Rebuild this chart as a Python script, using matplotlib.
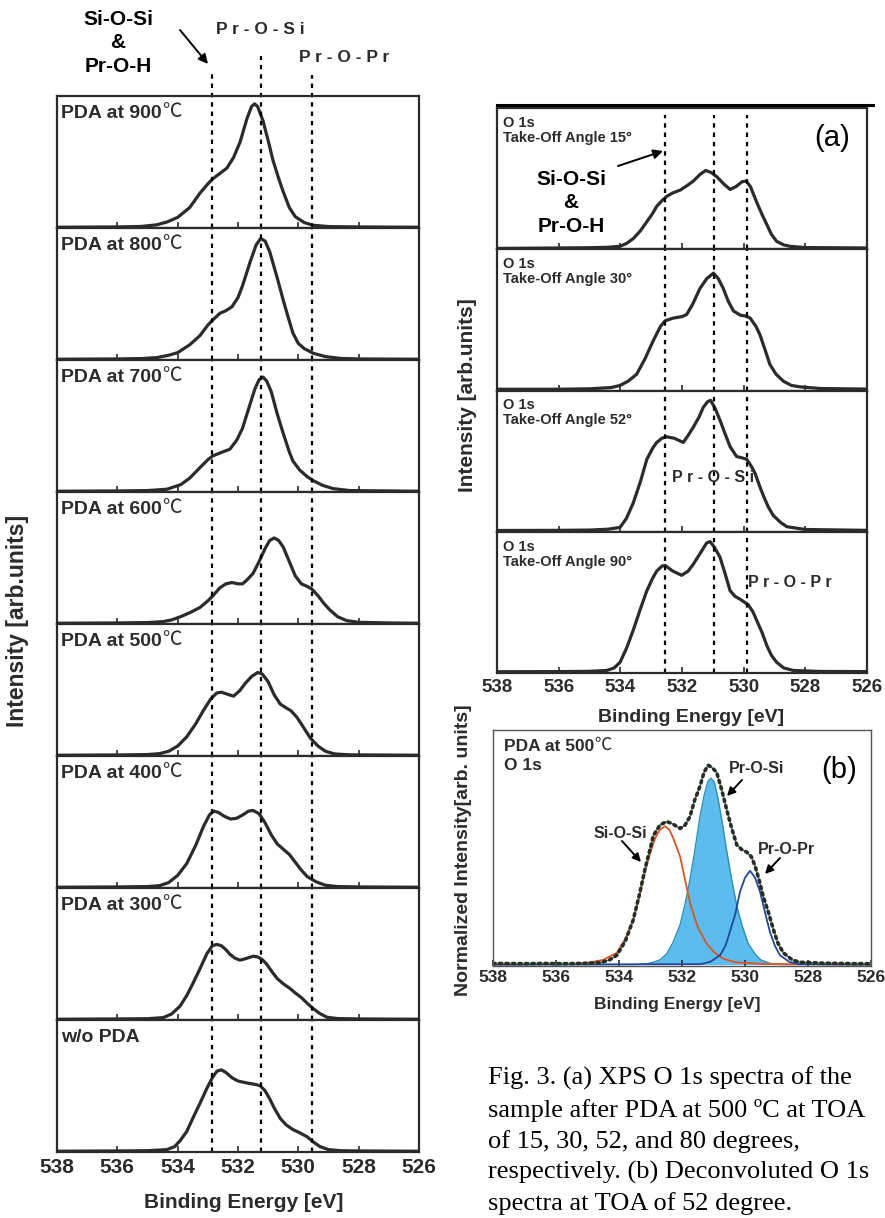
import matplotlib.pyplot as plt
from matplotlib.lines import Line2D
from matplotlib.patches import FancyArrowPatch

plt.rcParams['font.family'] = ['Liberation Sans', 'DejaVu Sans']

W, H = 885, 1218
INK = '#2b2b2b'

# ---- left column: PDA temperature series (binding energy, normalised intensity)
pda_labels = ['PDA at 900', 'PDA at 800', 'PDA at 700', 'PDA at 600',
              'PDA at 500', 'PDA at 400', 'PDA at 300', 'w/o PDA']

e900 = [538, 536, 535.2, 534.7, 534.35, 534.0, 533.6, 533.26, 533.0, 532.83, 532.6, 532.37, 532.15, 531.93, 531.7, 531.55, 531.45, 531.35, 531.17, 531.0, 530.84, 530.65, 530.5, 530.3, 530.1, 529.8, 529.5, 529.0, 528, 526]
i900 = [0, 0.002, 0.006, 0.018, 0.04, 0.075, 0.15, 0.26, 0.33, 0.37, 0.41, 0.45, 0.53, 0.65, 0.83, 0.92, 0.94, 0.92, 0.81, 0.66, 0.51, 0.37, 0.27, 0.15, 0.08, 0.035, 0.015, 0.005, 0.002, 0]
e800 = [538, 536, 535.2, 534.7, 534.3, 534.0, 533.6, 533.26, 533.0, 532.83, 532.6, 532.4, 532.2, 532.0, 531.85, 531.6, 531.4, 531.25, 531.1, 530.95, 530.7, 530.5, 530.35, 530.18, 530.0, 529.8, 529.5, 529.1, 528.6, 528, 526]
i800 = [0, 0.002, 0.005, 0.012, 0.03, 0.05, 0.11, 0.18, 0.26, 0.30, 0.35, 0.37, 0.40, 0.47, 0.56, 0.74, 0.87, 0.92, 0.90, 0.82, 0.62, 0.45, 0.33, 0.20, 0.12, 0.08, 0.045, 0.02, 0.006, 0.002, 0]
e700 = [538, 536, 535, 534.36, 533.9, 533.6, 533.26, 533.0, 532.83, 532.5, 532.27, 532.04, 531.85, 531.7, 531.55, 531.44, 531.3, 531.17, 531.05, 530.9, 530.7, 530.5, 530.3, 530.18, 529.95, 529.7, 529.5, 529.2, 528.85, 528.3, 526]
i700 = [0, 0.002, 0.005, 0.015, 0.05, 0.10, 0.18, 0.24, 0.27, 0.30, 0.32, 0.39, 0.48, 0.59, 0.70, 0.78, 0.85, 0.87, 0.84, 0.76, 0.59, 0.44, 0.30, 0.23, 0.16, 0.11, 0.08, 0.045, 0.02, 0.005, 0]
e600 = [538, 536, 535, 534.5, 534.2, 533.9, 533.6, 533.26, 533.0, 532.83, 532.6, 532.4, 532.2, 532.0, 531.85, 531.7, 531.5, 531.3, 531.1, 530.95, 530.8, 530.65, 530.5, 530.3, 530.1, 529.9, 529.7, 529.55, 529.35, 529.15, 528.95, 528.7, 528.4, 528.0, 527, 526]
i600 = [0, 0.002, 0.005, 0.012, 0.025, 0.05, 0.08, 0.12, 0.17, 0.21, 0.27, 0.30, 0.31, 0.30, 0.30, 0.33, 0.38, 0.47, 0.57, 0.63, 0.65, 0.63, 0.58, 0.47, 0.36, 0.30, 0.28, 0.26, 0.21, 0.15, 0.10, 0.05, 0.02, 0.007, 0.002, 0]
e500 = [538, 536, 535.0, 534.6, 534.3, 534.0, 533.7, 533.4, 533.15, 532.9, 532.7, 532.55, 532.35, 532.15, 531.95, 531.75, 531.55, 531.35, 531.2, 531.0, 530.8, 530.6, 530.4, 530.25, 530.05, 529.85, 529.6, 529.35, 529.1, 528.8, 528.3, 526]
i500 = [0, 0.002, 0.005, 0.012, 0.03, 0.07, 0.14, 0.24, 0.34, 0.43, 0.475, 0.48, 0.465, 0.45, 0.49, 0.55, 0.60, 0.63, 0.62, 0.56, 0.46, 0.39, 0.36, 0.34, 0.29, 0.22, 0.13, 0.07, 0.03, 0.01, 0.003, 0]
e400 = [538, 536, 535, 534.6, 534.3, 534.0, 533.7, 533.4, 533.15, 532.95, 532.8, 532.65, 532.45, 532.25, 532.05, 531.85, 531.65, 531.5, 531.3, 531.1, 530.9, 530.7, 530.5, 530.3, 530.1, 529.9, 529.7, 529.4, 529.1, 528.7, 528, 526]
i400 = [0, 0.002, 0.005, 0.012, 0.035, 0.09, 0.18, 0.32, 0.46, 0.55, 0.58, 0.57, 0.54, 0.52, 0.525, 0.55, 0.58, 0.585, 0.56, 0.49, 0.40, 0.33, 0.29, 0.25, 0.19, 0.13, 0.08, 0.04, 0.015, 0.005, 0.002, 0]
e300 = [538, 536, 535, 534.48, 534.2, 533.92, 533.7, 533.5, 533.25, 533.03, 532.85, 532.7, 532.55, 532.4, 532.27, 532.1, 531.93, 531.7, 531.5, 531.35, 531.2, 531.05, 530.9, 530.7, 530.5, 530.28, 530.1, 529.9, 529.7, 529.5, 529.3, 529.05, 528.7, 528, 526]
i300 = [0, 0.002, 0.004, 0.012, 0.04, 0.10, 0.18, 0.27, 0.39, 0.50, 0.56, 0.57, 0.56, 0.53, 0.495, 0.465, 0.45, 0.465, 0.48, 0.475, 0.455, 0.42, 0.37, 0.31, 0.27, 0.235, 0.20, 0.165, 0.12, 0.08, 0.045, 0.015, 0.005, 0.002, 0]
e_as = [538, 536, 535, 534.36, 534.1, 533.92, 533.7, 533.5, 533.25, 533.03, 532.85, 532.7, 532.55, 532.4, 532.2, 532.0, 531.7, 531.45, 531.27, 531.1, 530.95, 530.8, 530.6, 530.4, 530.18, 529.95, 529.71, 529.5, 529.28, 529.0, 528.6, 528, 526]
i_as = [0, 0.002, 0.004, 0.012, 0.035, 0.08, 0.15, 0.25, 0.37, 0.48, 0.56, 0.61, 0.62, 0.60, 0.56, 0.535, 0.52, 0.51, 0.50, 0.46, 0.40, 0.33, 0.25, 0.20, 0.165, 0.14, 0.11, 0.07, 0.035, 0.012, 0.004, 0.002, 0]

left_e = [e900, e800, e700, e600, e500, e400, e300, e_as]
left_i = [i900, i800, i700, i600, i500, i400, i300, i_as]
left_marks = [532.85, 531.25, 529.55]

# ---- (a) take-off angle series
toa_labels = ['O 1s\nTake-Off Angle 15°', 'O 1s\nTake-Off Angle 30°',
              'O 1s\nTake-Off Angle 52°', 'O 1s\nTake-Off Angle 90°']
ea15 = [538, 536, 535, 534.4, 534.01, 533.8, 533.58, 533.35, 533.14, 532.95, 532.82, 532.65, 532.5, 532.3, 532.06, 531.85, 531.63, 531.4, 531.23, 531.05, 530.87, 530.65, 530.44, 530.25, 530.05, 529.92, 529.78, 529.58, 529.4, 529.25, 529.1, 528.93, 528.7, 528.5, 528.0, 526]
ia15 = [0, 0.003, 0.005, 0.008, 0.015, 0.035, 0.07, 0.125, 0.19, 0.25, 0.30, 0.34, 0.37, 0.395, 0.415, 0.445, 0.48, 0.53, 0.555, 0.54, 0.51, 0.46, 0.42, 0.44, 0.475, 0.48, 0.44, 0.33, 0.24, 0.17, 0.10, 0.05, 0.025, 0.015, 0.006, 0.003]
ea30 = [538, 536, 535, 534.3, 534.01, 533.75, 533.47, 533.2, 532.93, 532.7, 532.55, 532.28, 532.0, 531.85, 531.65, 531.42, 531.2, 530.98, 530.82, 530.66, 530.5, 530.33, 530.1, 529.95, 529.79, 529.6, 529.47, 529.3, 529.15, 528.95, 528.71, 528.45, 528.17, 527.5, 526]
ia30 = [0.003, 0.003, 0.006, 0.015, 0.03, 0.06, 0.11, 0.22, 0.35, 0.45, 0.49, 0.51, 0.52, 0.535, 0.61, 0.72, 0.79, 0.83, 0.79, 0.72, 0.63, 0.56, 0.53, 0.525, 0.51, 0.45, 0.39, 0.28, 0.18, 0.11, 0.06, 0.03, 0.02, 0.008, 0.004]
ea52 = [538, 536, 535, 534.4, 534.01, 533.8, 533.58, 533.35, 533.14, 532.95, 532.82, 532.65, 532.5, 532.25, 531.96, 531.8, 531.63, 531.45, 531.31, 531.17, 531.07, 530.92, 530.77, 530.6, 530.44, 530.23, 530.05, 529.9, 529.75, 529.63, 529.5, 529.36, 529.2, 529.04, 528.8, 528.6, 528.0, 526]
ia52 = [0.003, 0.004, 0.006, 0.012, 0.025, 0.09, 0.20, 0.35, 0.51, 0.59, 0.63, 0.66, 0.67, 0.66, 0.63, 0.68, 0.74, 0.81, 0.88, 0.92, 0.93, 0.87, 0.79, 0.69, 0.60, 0.53, 0.52, 0.51, 0.46, 0.41, 0.33, 0.25, 0.17, 0.11, 0.06, 0.03, 0.01, 0.004]
ea90 = [538, 536, 535, 534.44, 534.2, 534.01, 533.8, 533.58, 533.35, 533.14, 532.95, 532.82, 532.65, 532.55, 532.3, 532.01, 531.8, 531.63, 531.4, 531.2, 531.09, 530.95, 530.77, 530.6, 530.44, 530.28, 530.12, 529.85, 529.7, 529.58, 529.4, 529.25, 529.1, 528.93, 528.7, 528.39, 527.5, 526]
ia90 = [0.003, 0.004, 0.006, 0.012, 0.03, 0.07, 0.17, 0.30, 0.45, 0.58, 0.67, 0.72, 0.755, 0.76, 0.72, 0.69, 0.72, 0.77, 0.85, 0.92, 0.93, 0.89, 0.82, 0.70, 0.58, 0.54, 0.52, 0.48, 0.43, 0.37, 0.28, 0.19, 0.12, 0.07, 0.03, 0.012, 0.005, 0.004]

toa_e = [ea15, ea30, ea52, ea90]
toa_i = [ia15, ia30, ia52, ia90]
toa_marks = [532.55, 530.96, 529.89]

# ---- (b) deconvolution, PDA 500 C, TOA 52
eb = [538, 537, 536.5, 535.8, 535.2, 534.6, 534.3, 534.07, 533.8, 533.55, 533.35, 533.17, 533.0, 532.91, 532.7, 532.49, 532.3, 532.06, 531.9, 531.75, 531.6, 531.43, 531.3, 531.17, 531.05, 530.9, 530.75, 530.58, 530.42, 530.26, 530.1, 529.95, 529.8, 529.68, 529.55, 529.42, 529.25, 529.1, 528.95, 528.78, 528.5, 528.25, 527.5, 527.0, 526.5, 526]
ib = [0.005, 0.004, 0.005, 0.004, 0.005, 0.008, 0.02, 0.04, 0.10, 0.19, 0.30, 0.41, 0.50, 0.55, 0.595, 0.61, 0.60, 0.58, 0.595, 0.63, 0.70, 0.76, 0.82, 0.85, 0.84, 0.82, 0.75, 0.66, 0.58, 0.51, 0.49, 0.48, 0.46, 0.42, 0.36, 0.29, 0.22, 0.15, 0.09, 0.05, 0.02, 0.01, 0.006, 0.005, 0.004, 0.004]
e_sios = [538, 535.5, 535.0, 534.5, 534.07, 533.8, 533.55, 533.35, 533.17, 533.0, 532.85, 532.7, 532.54, 532.4, 532.25, 532.06, 531.9, 531.74, 531.5, 531.22, 531.0, 530.69, 530.3, 529.5, 526]
i_sios = [0, 0.003, 0.008, 0.02, 0.05, 0.11, 0.19, 0.29, 0.40, 0.48, 0.54, 0.575, 0.59, 0.575, 0.53, 0.46, 0.36, 0.26, 0.16, 0.09, 0.055, 0.025, 0.01, 0.003, 0]
e_pros = [538, 533.5, 533.1, 532.91, 532.7, 532.49, 532.3, 532.06, 531.9, 531.75, 531.6, 531.43, 531.3, 531.18, 531.09, 530.98, 530.86, 530.74, 530.6, 530.42, 530.26, 530.1, 529.9, 529.68, 529.5, 529.2, 528.8, 526]
i_pros = [0, 0, 0.004, 0.01, 0.02, 0.045, 0.09, 0.17, 0.26, 0.36, 0.48, 0.63, 0.72, 0.78, 0.795, 0.78, 0.71, 0.62, 0.50, 0.36, 0.25, 0.17, 0.09, 0.045, 0.02, 0.005, 0, 0]
e_prop = [538, 531.4, 531.1, 530.79, 530.62, 530.48, 530.3, 530.16, 530.0, 529.84, 529.68, 529.52, 529.36, 529.21, 529.05, 528.89, 528.6, 528.3, 526]
i_prop = [0, 0.002, 0.012, 0.04, 0.08, 0.14, 0.22, 0.31, 0.37, 0.40, 0.37, 0.31, 0.22, 0.14, 0.08, 0.04, 0.012, 0.002, 0]

xticks = [538, 536, 534, 532, 530, 528, 526]


def rect(l, t, r, b):
    return [l / W, 1 - b / H, (r - l) / W, (b - t) / H]


def style_axes(ax, show_labels, size, pad):
    ax.set_xlim(538, 526)
    ax.set_ylim(-0.006, 1.0)
    ax.set_yticks([])
    ax.set_xticks(xticks)
    ax.tick_params(axis='x', direction='in', length=4, width=1.2, color=INK,
                   labelbottom=show_labels, labelsize=size, pad=pad)
    for lab in ax.get_xticklabels():
        lab.set_fontweight('bold')
        lab.set_color(INK)
    for s in ax.spines.values():
        s.set_color(INK)
        s.set_linewidth(1.6)


def add_degc(ax, txt_artist, size):
    ax.annotate('℃', xy=(1, 0), xycoords=txt_artist, va='bottom', ha='left',
                fontsize=size, family=['Noto Sans CJK SC', 'DejaVu Sans'],
                fontweight='light', color=INK)


def px_arrow(x0, y0, x1, y1, ms=14, lw=1.4):
    fig.add_artist(FancyArrowPatch((x0 / W, 1 - y0 / H), (x1 / W, 1 - y1 / H),
                                   transform=fig.transFigure, arrowstyle='-|>',
                                   mutation_scale=ms, color='black', lw=lw,
                                   shrinkA=0, shrinkB=0))


fig = plt.figure(figsize=(W / 100, H / 100), dpi=100)

# left column
top, ph = 96, 132
for k in range(8):
    ax = fig.add_axes(rect(57, top + k * ph, 419, top + (k + 1) * ph))
    style_axes(ax, k == 7, 15, 4)
    ax.plot(left_e[k], left_i[k], color=INK, lw=2.3, solid_capstyle='round',
            solid_joinstyle='round')
    t = ax.text(0.012, 0.87, pda_labels[k], transform=ax.transAxes, fontsize=14,
                fontweight='bold', color=INK, va='center', ha='left')
    if k < 7:
        add_degc(ax, t, 14)
    ext = [1.18, 1.30, 1.16] if k == 0 else [1, 1, 1]
    for m, yx in zip(left_marks, ext):
        ax.axvline(m, ymin=0, ymax=yx, color='black', lw=1.6,
                   linestyle=(0, (2, 2.2)), clip_on=False)

fig.text(18 / W, 1 - 621 / H, 'Intensity [arb.units]', rotation=90, fontsize=16.5,
         fontweight='bold', color=INK, ha='center', va='center')
fig.text(244 / W, 1 - 1203 / H, 'Binding Energy [eV]', fontsize=15,
         fontweight='bold', color=INK, ha='center', va='center')
fig.text(118 / W, 1 - 43 / H, 'Si-O-Si\n&\nPr-O-H', fontsize=15, fontweight='bold',
         color='black', ha='center', va='center', linespacing=1.3)
fig.text(260 / W, 1 - 30 / H, 'P r - O - S i', fontsize=12.5, fontweight='bold',
         color=INK, ha='center', va='center')
fig.text(344 / W, 1 - 58 / H, 'P r - O - P r', fontsize=12.5, fontweight='bold',
         color=INK, ha='center', va='center')
px_arrow(180, 30, 208, 64)

# right column (a)
atop, aph = 108, (673 - 108) / 4
for k in range(4):
    ax = fig.add_axes(rect(497, atop + k * aph, 867, atop + (k + 1) * aph))
    style_axes(ax, k == 3, 13.5, 4)
    ax.plot(toa_e[k], toa_i[k], color=INK, lw=2.3, solid_capstyle='round',
            solid_joinstyle='round')
    ax.text(0.016, 0.945, toa_labels[k], transform=ax.transAxes, fontsize=10.5,
            fontweight='bold', color=INK, va='top', ha='left', linespacing=1.1)
    ymax = 0.95 if k == 0 else 1
    for m in toa_marks:
        ax.axvline(m, ymin=0, ymax=ymax, color='black', lw=1.6,
                   linestyle=(0, (2, 2.2)))
    if k == 0:
        ax.text(0.905, 0.79, '(a)', transform=ax.transAxes, fontsize=21,
                color='black', ha='center', va='center')
        ax.text(0.2, 0.33, 'Si-O-Si\n&\nPr-O-H', transform=ax.transAxes, fontsize=15,
                fontweight='bold', color='black', ha='center', va='center',
                linespacing=1.3)
    if k == 2:
        ax.text(531.0, 0.38, 'P r - O - S i', fontsize=11.5, fontweight='bold',
                color=INK, ha='center', va='center')
    if k == 3:
        ax.text(529.85, 0.64, 'P r - O - P r', fontsize=11.5, fontweight='bold',
                color=INK, ha='left', va='center')

px_arrow(618, 166, 663, 151)
fig.add_artist(Line2D([497 / W, 873 / W], [1 - 105 / H, 1 - 105 / H], color='black', lw=2.2))
fig.text(467 / W, 1 - 395 / H, 'Intensity [arb.units]', rotation=90, fontsize=15,
         fontweight='bold', color=INK, ha='center', va='center')
fig.text(691 / W, 1 - 717 / H, 'Binding Energy [eV]', fontsize=14,
         fontweight='bold', color=INK, ha='center', va='center')

# panel (b)
axb = fig.add_axes(rect(493, 730, 871, 966))
style_axes(axb, True, 12.5, 3)
for s in axb.spines.values():
    s.set_linewidth(1.0)
    s.set_color('#555555')
axb.fill_between(e_pros, i_pros, 0, color='#5bbcef', lw=0)
axb.plot(e_pros, i_pros, color='#2a8fb5', lw=1.0)
axb.plot(e_sios, i_sios, color='#e2531c', lw=1.3)
axb.plot(e_prop, i_prop, color='#21489a', lw=1.3)
axb.plot(eb, ib, color='#3cb043', lw=1.0)
axb.plot(eb, ib, color='#2b2b2b', lw=2.6, linestyle=(0, (0.6, 1.2)),
         dash_capstyle='round')
tb = axb.text(0.028, 0.93, 'PDA at 500', transform=axb.transAxes, fontsize=12.5,
              fontweight='bold', color=INK, va='center', ha='left')
add_degc(axb, tb, 12.5)
axb.text(0.028, 0.85, 'O 1s', transform=axb.transAxes, fontsize=12.5,
         fontweight='bold', color=INK, va='center', ha='left')
axb.text(0.915, 0.83, '(b)', transform=axb.transAxes, fontsize=21,
         color='black', ha='center', va='center')
axb.text(529.62, 0.835, 'Pr-O-Si', fontsize=11.5, fontweight='bold', color=INK,
         ha='center', va='center')
axb.text(533.97, 0.56, 'Si-O-Si', fontsize=11.5, fontweight='bold', color=INK,
         ha='center', va='center')
axb.text(528.67, 0.49, 'Pr-O-Pr', fontsize=11.5, fontweight='bold', color=INK,
         ha='center', va='center')
px_arrow(742, 780, 727, 796, ms=12, lw=1.4)
px_arrow(622, 841, 641, 862, ms=12, lw=1.4)
px_arrow(780, 858, 765, 874, ms=12, lw=1.4)
fig.text(463 / W, 1 - 850 / H, 'Normalized Intensity[arb. units]', rotation=90,
         fontsize=14, fontweight='bold', color=INK, ha='center', va='center')
fig.text(677 / W, 1 - 1004 / H, 'Binding Energy [eV]', fontsize=12.5,
         fontweight='bold', color=INK, ha='center', va='center')

caption = ('Fig. 3. (a) XPS O 1s spectra of the\n'
           'sample after PDA at 500 ºC at TOA\n'
           'of 15, 30, 52, and 80 degrees,\n'
           'respectively. (b) Deconvoluted O 1s\n'
           'spectra at TOA of 52 degree.')
fig.text(488 / W, 1 - 1067 / H, caption, family=['Liberation Serif', 'DejaVu Serif'],
         fontsize=19, color='black', ha='left', va='top', linespacing=1.46)

fig.savefig('out.png', dpi=100)
